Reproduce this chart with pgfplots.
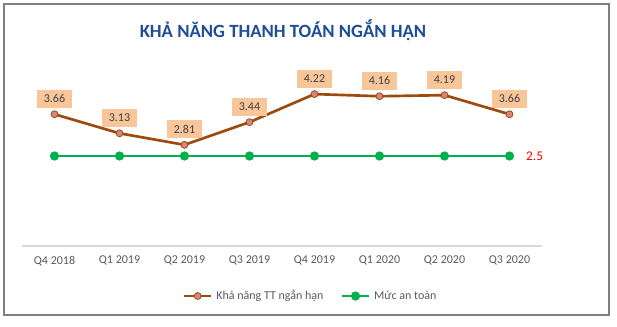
\documentclass[border=0pt]{standalone}
\usepackage{pgfplots}
\pgfplotsset{compat=1.18}
\usepackage{fontspec}
\setmainfont{Carlito}
\definecolor{titleblue}{HTML}{1F4E96}
\definecolor{brownline}{HTML}{9E4A0E}
\definecolor{markerfill}{HTML}{D4877A}
\definecolor{greenline}{HTML}{00B050}
\definecolor{labelfill}{HTML}{F9C69A}
\definecolor{txtgrey}{HTML}{595959}
\definecolor{labeltxt}{HTML}{404040}
\definecolor{bordergrey}{HTML}{7F7F7F}
\begin{document}
\begin{tikzpicture}
\path[use as bounding box] (0pt,0pt) rectangle (462.75pt,245.25pt);
\draw[bordergrey, line width=0.9pt] (3pt,9pt) rectangle (456.75pt,242.25pt);
\node[font=\bfseries\fontsize{14}{16}\selectfont, text=titleblue] at (212.25pt,222.75pt) {KHẢ NĂNG THANH TOÁN NGẮN HẠN};
\begin{axis}[
  at={(16.5pt,60.75pt)}, anchor=south west,
  scale only axis,
  width=390pt, height=135pt,
  xmin=-0.5, xmax=7.5, ymin=0, ymax=5,
  axis x line*=bottom, hide y axis,
  x axis line style={draw=black!15, line width=0.8pt, -},
  xtick={0,...,7},
  xticklabels={Q4 2018,Q1 2019,Q2 2019,Q3 2019,Q4 2019,Q1 2020,Q2 2020,Q3 2020},
  major tick length=0pt,
  xticklabel style={font=\fontsize{9}{11}\selectfont, text=txtgrey, yshift=-4pt},
  /pgf/number format/assume math mode=true,
  clip=false,
  legend style={at={(0.556,-0.278)}, anchor=center, draw=none, fill=none,
    font=\fontsize{9}{11}\selectfont, text=txtgrey, legend columns=2,
    /tikz/every odd column/.append style={column sep=1pt},
    /tikz/every even column/.append style={column sep=11pt}},
  legend image code/.code={
    \draw[#1] (0cm,0cm) -- (20pt,0cm);
    \draw[#1, only marks] plot coordinates {(10pt,0cm)};
  },
]
\addplot[brownline, line width=2pt, mark=*, mark size=2.6pt,
  mark options={fill=markerfill, draw=brownline, line width=0.6pt},
  nodes near coords={\pgfmathprintnumber[fixed,precision=2,fixed zerofill]{\pgfplotspointmeta}},
  nodes near coords style={fill=labelfill, text=labeltxt, font=\fontsize{9}{11}\selectfont,
    inner xsep=5pt, inner ysep=3.8pt, anchor=south, yshift=4.5pt}]
  coordinates {(0,3.66) (1,3.13) (2,2.81) (3,3.44) (4,4.22) (5,4.16) (6,4.19) (7,3.66)};
\addlegendentry{Khả năng TT ngắn hạn}
\addplot[greenline, line width=2pt, mark=*, mark size=2.4pt,
  mark options={fill=greenline, draw=greenline}]
  coordinates {(0,2.5) (1,2.5) (2,2.5) (3,2.5) (4,2.5) (5,2.5) (6,2.5) (7,2.5)};
\addlegendentry{Mức an toàn}
\node[anchor=west, text=red, font=\fontsize{10}{12}\selectfont] at (axis cs:7,2.5) [xshift=9pt] {2.5};
\end{axis}
\end{tikzpicture}
\end{document}
